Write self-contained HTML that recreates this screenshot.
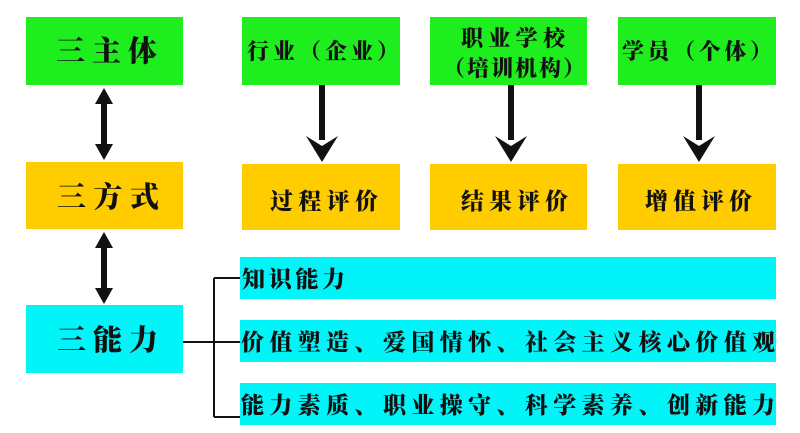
<!DOCTYPE html>
<html><head><meta charset="utf-8"><style>
html,body{margin:0;padding:0;background:#fff;width:800px;height:433px;overflow:hidden}
text{font-family:"Liberation Sans","Noto Serif CJK SC","Noto Sans CJK SC",serif;font-weight:900;fill:#111}
</style></head><body>
<svg width="800" height="433" xmlns="http://www.w3.org/2000/svg">
<!-- left column -->
<rect x="26" y="17" width="157" height="68" fill="#1eee1e"/>
<text x="56" y="61" font-size="29" textLength="101" lengthAdjust="spacing">三主体</text>
<rect x="26" y="162" width="157" height="67" fill="#ffcc00"/>
<text x="57" y="207" font-size="29" textLength="102" lengthAdjust="spacing">三方式</text>
<rect x="26" y="305" width="157" height="68" fill="#00f4f8"/>
<text x="57" y="350" font-size="29" textLength="101" lengthAdjust="spacing">三能力</text>
<!-- double arrows -->
<g fill="#111">
<rect x="101" y="100" width="6" height="45"/>
<polygon points="104,88 95,104 113,104"/>
<polygon points="104,160 95,144 113,144"/>
<rect x="101" y="245" width="6" height="45"/>
<polygon points="104,232 95,248 113,248"/>
<polygon points="104,304 95,288 113,288"/>
</g>
<!-- top boxes -->
<rect x="242" y="17" width="158" height="68" fill="#1eee1e"/>
<text x="247" y="59" font-size="22" textLength="152" lengthAdjust="spacing">行业（企业）</text>
<rect x="430" y="17" width="157" height="68" fill="#1eee1e"/>
<text x="461" y="46" font-size="22" textLength="104" lengthAdjust="spacing">职业学校</text>
<text x="443" y="76" font-size="22" textLength="142" lengthAdjust="spacing">（培训机构）</text>
<rect x="618" y="17" width="158" height="68" fill="#1eee1e"/>
<text x="622" y="59" font-size="22" textLength="150" lengthAdjust="spacing">学员（个体）</text>
<!-- down arrows -->
<g fill="#111">
<rect x="319" y="85" width="6" height="55"/>
<polygon points="306,136 322,162 338,136 322,146"/>
<rect x="508" y="85" width="6" height="55"/>
<polygon points="495,136 511,162 527,136 511,146"/>
<rect x="696" y="85" width="6" height="55"/>
<polygon points="683,136 699,162 715,136 699,146"/>
</g>
<!-- eval boxes -->
<rect x="242" y="164" width="158" height="66" fill="#ffcc00"/>
<text x="270" y="209" font-size="23" textLength="108" lengthAdjust="spacing">过程评价</text>
<rect x="430" y="164" width="157" height="66" fill="#ffcc00"/>
<text x="461" y="209" font-size="23" textLength="107" lengthAdjust="spacing">结果评价</text>
<rect x="618" y="164" width="158" height="66" fill="#ffcc00"/>
<text x="645" y="209" font-size="23" textLength="107" lengthAdjust="spacing">增值评价</text>
<!-- connectors -->
<g stroke="#111" stroke-width="2" fill="none">
<line x1="183" y1="342" x2="240" y2="342"/>
<line x1="214" y1="278" x2="214" y2="417"/>
<line x1="214" y1="278" x2="240" y2="278"/>
<line x1="214" y1="417" x2="240" y2="417"/>
</g>
<!-- cyan bars -->
<rect x="240" y="257" width="536" height="42" fill="#00f4f8"/>
<text x="242" y="287" font-size="23" textLength="103" lengthAdjust="spacing">知识能力</text>
<rect x="240" y="320" width="536" height="42" fill="#00f4f8"/>
<text x="241" y="350" font-size="23" textLength="534" lengthAdjust="spacing">价值塑造、爱国情怀、社会主义核心价值观</text>
<rect x="240" y="383" width="536" height="42" fill="#00f4f8"/>
<text x="241" y="413" font-size="23" textLength="534" lengthAdjust="spacing">能力素质、职业操守、科学素养、创新能力</text>
</svg>
</body></html>
